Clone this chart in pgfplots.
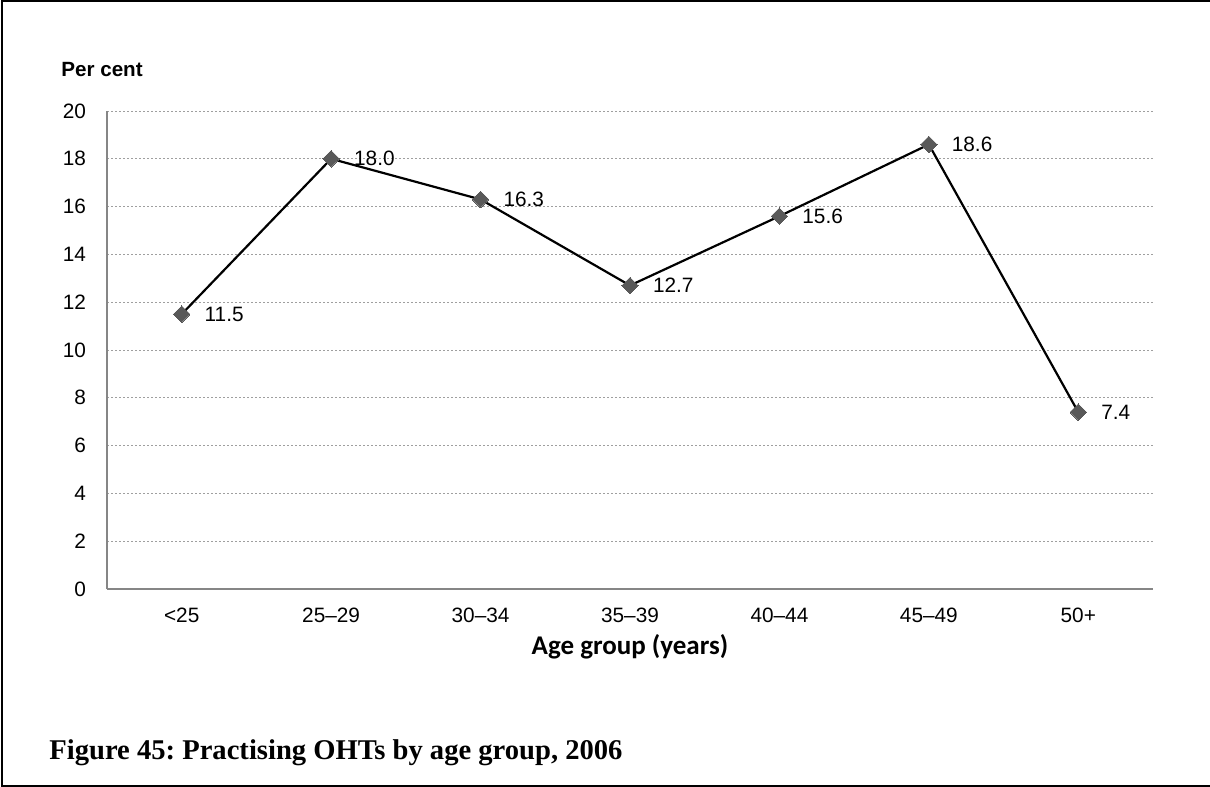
\documentclass[border=0pt]{standalone}
\usepackage{pgfplots}
\pgfplotsset{compat=1.18}
\usepackage{fontspec}
\setmainfont{Liberation Sans}
\newfontfamily\calibri{Carlito}
\newfontfamily\capserif{Liberation Serif}
\definecolor{markgray}{HTML}{595959}
\definecolor{axgray}{HTML}{868686}
\pgfplotsset{/pgf/number format/assume math mode=true}
\frenchspacing
\begin{document}
\begin{tikzpicture}
\path[use as bounding box] (0pt,0pt) rectangle (605pt,-393.5pt);
\draw[line width=1pt] (605pt,-0.5pt) -- (1pt,-0.5pt) -- (1pt,-392.9pt) -- (605pt,-392.9pt);
\node[anchor=base west, inner sep=0pt, font=\fontsize{10.3}{12}\selectfont\bfseries] at (30.5pt,-38pt) {Per cent};
\begin{axis}[
  at={(53.5pt,-294.5pt)}, anchor=south west,
  scale only axis, width=523pt, height=239pt,
  xmin=-0.5, xmax=6.5, ymin=0, ymax=20,
  xtick={0,...,6},
  xticklabels={<25,25--29,30--34,35--39,40--44,45--49,50+},
  ytick={0,2,...,20},
  axis lines=left,
  axis line style={-, draw=axgray, line width=0.9pt},
  major tick length=0pt,
  ymajorgrids,
  grid style={draw=gray!75, line width=0.5pt, dash pattern=on 1.2pt off 0.8pt},
  tick label style={font=\fontsize{10.4}{12}\selectfont},
  yticklabel style={xshift=-7pt},
  xticklabel style={yshift=-6pt},
  xlabel={\calibri\bfseries Age group (years)},
  xlabel style={font=\fontsize{13.5}{15}\selectfont, yshift=1pt},
  clip=false,
]
\addplot[black, line width=1.1pt, mark=square*, mark size=2.9pt,
  mark options={fill=markgray, draw=markgray, line width=0pt, rotate=45},
  point meta=y,
  nodes near coords={\pgfmathprintnumber[fixed,fixed zerofill,precision=1]{\pgfplotspointmeta}},
  nodes near coords style={anchor=west, inner sep=0pt, xshift=11.5pt, font=\fontsize{10.4}{12}\selectfont, text=black, rotate=0},
] coordinates {(0,11.5) (1,18.0) (2,16.3) (3,12.7) (4,15.6) (5,18.6) (6,7.4)};
\end{axis}
\node[anchor=base west, inner sep=0pt, font=\capserif\bfseries\fontsize{14.3}{16}\selectfont] at (24.5pt,-379.5pt) {Figure 45: Practising OHTs by age group, 2006};
\end{tikzpicture}
\end{document}
